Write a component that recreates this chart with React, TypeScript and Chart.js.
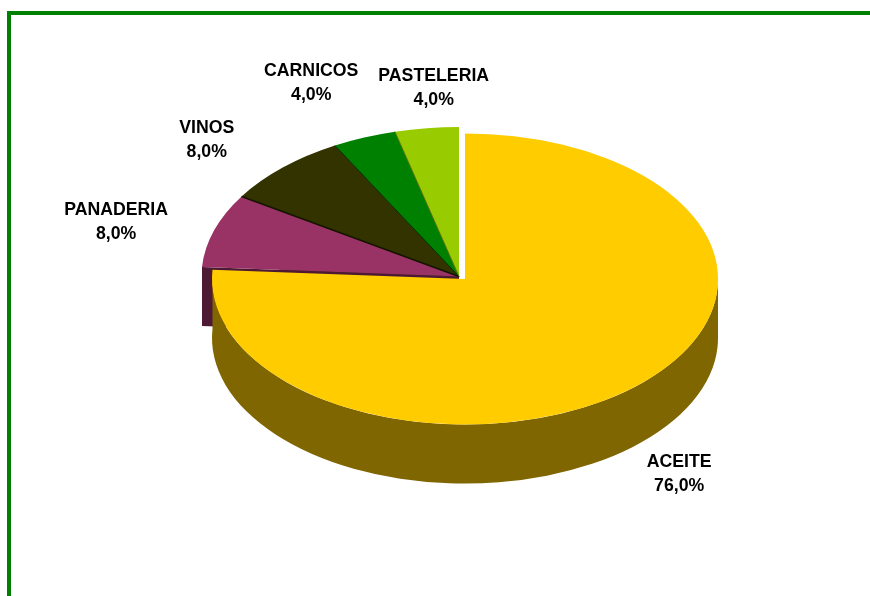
import React, { useEffect, useRef } from "react";
import { Chart, registerables } from "chart.js";

Chart.register(...registerables);

const categories = ["ACEITE", "PANADERIA", "VINOS", "CARNICOS", "PASTELERIA"];
const shares = [76, 8, 8, 4, 4];
const topColors = ["#FFCC00", "#993366", "#333300", "#008000", "#99CC00"];
const sideColors = ["#806600", "#4D1933", "#1A1A00", "#004000", "#4D6600"];
const edgeColors = ["#806600", "#4D1933", "#141400", "#003000", "#5A6E10"];

// Projection of the flat pie: centre on the page, and radii on screen
const BASE_RADIUS = 257;
const DEPTH = 59;
const exploded = { cx: 465, cy: 279, rx: 253, ry: 145.5 };
const grouped = { cx: 459, cy: 276.5, rx: 257.5, ry: 149.5 };
// Label centre, relative to the slice's rim mid-point
const labelShift = [
  [41, 89],
  [-98, -8],
  [-76, -27],
  [-53, -54],
  [7, -40],
];

const geom = (i: number) => (i === 0 ? exploded : grouped);

const pie3d = {
  id: "pie3d",
  beforeDatasetDraw(chart: any) {
    const ctx = chart.ctx;
    const arcs = chart.getDatasetMeta(0).data;

    // cut faces of the grouped slices, back ones first
    for (let i = arcs.length - 1; i >= 1; i--) {
      const el = arcs[i];
      const g = geom(i);
      const px = g.cx + Math.cos(el.startAngle) * g.rx;
      const py = g.cy + Math.sin(el.startAngle) * g.ry;
      ctx.fillStyle = sideColors[i];
      ctx.beginPath();
      ctx.moveTo(g.cx, g.cy);
      ctx.lineTo(px, py);
      ctx.lineTo(px, py + DEPTH);
      ctx.lineTo(g.cx, g.cy + DEPTH);
      ctx.closePath();
      ctx.fill();
    }

    // outer wall of the slice that faces the viewer
    arcs.forEach((el: any, i: number) => {
      const g = geom(i);
      const a0 = Math.max(el.startAngle, 0);
      const a1 = el.endAngle;
      if (a1 <= a0 || i !== 0) return;
      ctx.fillStyle = sideColors[i];
      ctx.beginPath();
      ctx.ellipse(g.cx, g.cy, g.rx, g.ry, 0, a0, a1, false);
      ctx.ellipse(g.cx, g.cy + DEPTH, g.rx, g.ry, 0, a1, a0, true);
      ctx.closePath();
      ctx.fill();
    });

    // top faces, drawn by the library's arc elements
    arcs.forEach((el: any, i: number) => {
      const g = geom(i);
      ctx.save();
      ctx.translate(g.cx, g.cy);
      ctx.scale(g.rx / BASE_RADIUS, g.ry / BASE_RADIUS);
      ctx.translate(-el.x, -el.y);
      el.draw(ctx);
      ctx.restore();
    });

    // thin dark seams between the grouped slices
    arcs.forEach((el: any, i: number) => {
      if (i < 2) return;
      const g = geom(i);
      ctx.strokeStyle = edgeColors[i];
      ctx.lineWidth = i === 2 ? 1.6 : 1;
      ctx.beginPath();
      ctx.moveTo(g.cx, g.cy);
      ctx.lineTo(g.cx + Math.cos(el.startAngle) * g.rx, g.cy + Math.sin(el.startAngle) * g.ry);
      ctx.stroke();
    });

    // labels
    ctx.fillStyle = "#000000";
    ctx.font = 'bold 17.7px "Liberation Sans", Arial, sans-serif';
    ctx.textAlign = "center";
    ctx.textBaseline = "middle";
    arcs.forEach((el: any, i: number) => {
      const g = geom(i);
      const mid = (el.startAngle + el.endAngle) / 2;
      const x = g.cx + Math.cos(mid) * g.rx + labelShift[i][0];
      const y = g.cy + Math.sin(mid) * g.ry + labelShift[i][1];
      ctx.fillText(categories[i], x, y - 12);
      ctx.fillText(shares[i].toFixed(1).replace(".", ",") + "%", x, y + 12);
    });
    return false;
  },
};

export default function App() {
  const ref = useRef<HTMLCanvasElement>(null);
  useEffect(() => {
    const chart = new Chart(ref.current as HTMLCanvasElement, {
      type: "pie",
      data: {
        labels: categories,
        datasets: [
          {
            data: shares,
            backgroundColor: topColors,
            borderWidth: 0,
            radius: BASE_RADIUS,
          } as any,
        ],
      },
      options: {
        responsive: false,
        animation: false,
        layout: { padding: 0 },
        plugins: { legend: { display: false }, tooltip: { enabled: false }, title: { display: false } },
      },
      plugins: [pie3d],
    });
    return () => chart.destroy();
  }, []);
  return (
    <>
      <div
        style={{
          position: "fixed",
          left: 7,
          top: 11,
          right: 0,
          bottom: 0,
          borderLeft: "4px solid #008000",
          borderTop: "4px solid #008000",
        }}
      />
      <canvas
        ref={ref}
        width={870}
        height={596}
        style={{ position: "fixed", left: 0, top: 0, width: 870, height: 596, display: "block" }}
      />
    </>
  );
}
